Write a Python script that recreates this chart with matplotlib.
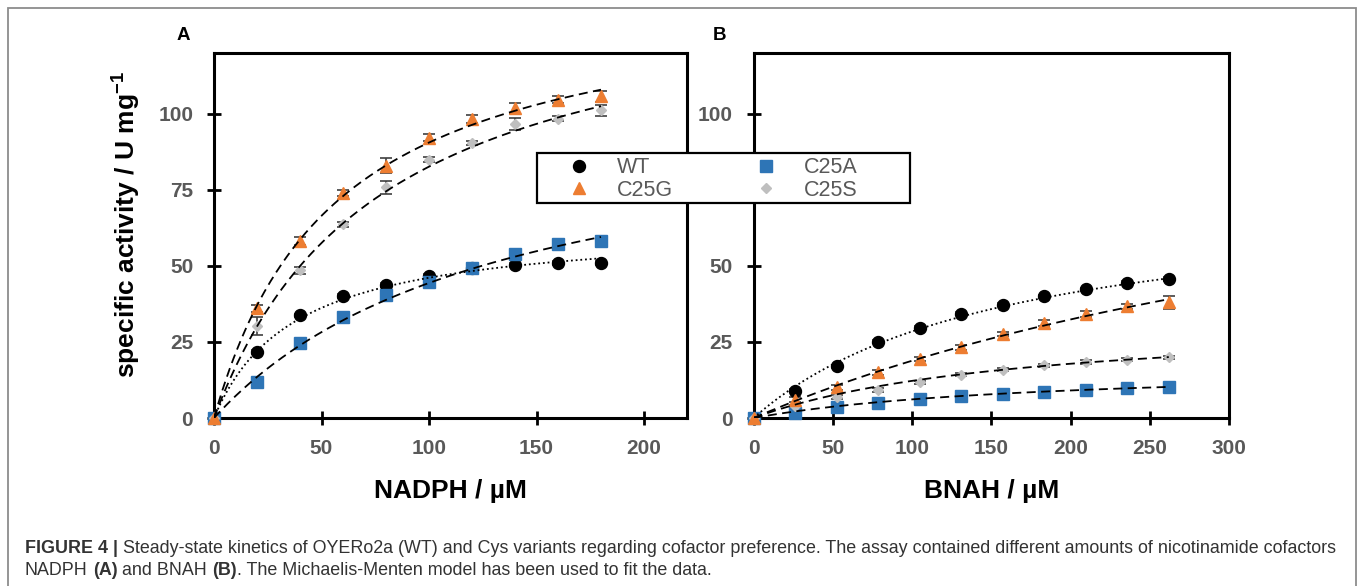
import numpy as np
import matplotlib.pyplot as plt
from matplotlib.lines import Line2D
from matplotlib.patches import Rectangle

plt.rcParams['font.family'] = ['Liberation Sans', 'DejaVu Sans']
plt.rcParams['mathtext.fontset'] = 'custom'
plt.rcParams['mathtext.bf'] = 'Liberation Sans:bold'
plt.rcParams['mathtext.rm'] = 'Liberation Sans'

# panel A: NADPH
nadph = [0, 20, 40, 60, 80, 100, 120, 140, 160, 180]
a_wt = [0, 21.6, 33.7, 40.1, 43.7, 46.7, 49.3, 50.2, 50.9, 50.9]
a_c25a = [0, 11.7, 24.8, 33.3, 40.4, 44.6, 49.3, 53.8, 57.1, 58.2]
a_c25g = [0, 36.1, 58.2, 74.1, 83.0, 92.2, 98.3, 101.9, 104.6, 105.7]
a_c25s = [0, 30.3, 48.5, 63.7, 75.8, 84.9, 90.4, 96.6, 98.4, 101.1]
a_wt_err = [0, 0.6, 0.6, 0.6, 0.6, 0.6, 0.6, 0.6, 0.6, 0.6]
a_c25a_err = [0, 0.6, 0.6, 0.6, 0.8, 0.8, 0.8, 0.8, 0.8, 0.8]
a_c25g_err = [0, 1.2, 1.2, 1.0, 2.5, 1.2, 1.3, 1.6, 1.2, 1.9]
a_c25s_err = [0, 3.0, 1.0, 0.8, 2.2, 0.8, 0.8, 1.9, 0.8, 1.9]

# panel B: BNAH
bnah = [0, 26.2, 52.4, 78.6, 104.8, 131, 157.2, 183.4, 209.6, 235.8, 262]
b_wt = [0, 9.0, 17.0, 25.0, 29.7, 34.3, 37.3, 40.0, 42.4, 44.4, 45.7]
b_c25a = [0, 1.6, 3.5, 4.9, 6.3, 7.1, 7.9, 8.6, 9.3, 9.9, 10.1]
b_c25g = [0, 6.0, 10.1, 15.1, 19.4, 23.2, 27.6, 31.3, 34.2, 36.7, 38.0]
b_c25s = [0, 3.8, 6.8, 9.3, 11.7, 14.3, 15.9, 17.3, 18.4, 19.2, 19.9]
b_wt_err = [0, 0.5, 0.5, 0.5, 0.5, 0.5, 0.5, 0.5, 0.5, 0.5, 0.5]
b_c25a_err = [0, 0.4, 0.4, 0.4, 0.4, 0.4, 0.4, 0.4, 0.4, 0.4, 0.4]
b_c25g_err = [0, 0.8, 0.8, 0.8, 0.8, 0.8, 0.8, 1.0, 0.9, 0.9, 2.0]
b_c25s_err = [0, 0.5, 0.6, 0.6, 0.6, 0.6, 0.6, 0.6, 0.6, 0.6, 0.6]

# Michaelis-Menten fit parameters (Vmax, Km)
a_fit = {'WT': (63.5, 37.7), 'C25A': (103.7, 133.6), 'C25G': (142.0, 56.8), 'C25S': (146.6, 77.4)}
b_fit = {'WT': (74.0, 160.0), 'C25A': (17.4, 184.0), 'C25G': (116.0, 516.0), 'C25S': (33.1, 171.0)}

names = ['WT', 'C25A', 'C25G', 'C25S']
colors = {'WT': 'black', 'C25A': '#2E75B6', 'C25G': '#ED7D31', 'C25S': '#BFBFBF'}
markers = {'WT': 'o', 'C25A': 's', 'C25G': '^', 'C25S': 'D'}
msize = {'WT': 8.6, 'C25A': 8.0, 'C25G': 8.6, 'C25S': 5.4}
lstyle = {'WT': (0, (1, 1.6)), 'C25A': (0, (5, 3)), 'C25G': (0, (5, 3)), 'C25S': (0, (5, 3))}

tick_col = '#595959'

fig = plt.figure(figsize=(13.58, 5.86), dpi=100)
axA = fig.add_axes([214/1358, 168/586, 473/1358, 365/586])
axB = fig.add_axes([753.6/1358, 168/586, 475.4/1358, 365/586])


def draw(ax, x, ys, errs, fits, xmax, xticks, xlabel):
    for n in ['WT', 'C25A', 'C25S', 'C25G']:
        ax.errorbar(x, ys[n], yerr=errs[n], fmt='none', ecolor='#404040',
                    elinewidth=1.2, capsize=4, capthick=1.2, zorder=2, clip_on=False)
        ax.plot(x, ys[n], linestyle='none', marker=markers[n], ms=msize[n],
                color=colors[n], mec=colors[n], zorder=3, clip_on=False)
    for n in names:
        vmax, km = fits[n]
        xs = np.linspace(0, x[-1], 200)
        ax.plot(xs, vmax * xs / (km + xs), color='black', lw=1.3,
                linestyle=lstyle[n], zorder=4)
    ax.set_xlim(0, xmax)
    ax.set_ylim(0, 120)
    ax.set_xticks(xticks)
    ax.set_yticks([0, 25, 50, 75, 100])
    for s in ax.spines.values():
        s.set_linewidth(2.2)
        s.set_color('black')
    ax.tick_params(direction='inout', length=10, width=2, color='black',
                   labelsize=15, labelcolor=tick_col)
    ax.tick_params(axis='x', pad=10)
    ax.tick_params(axis='y', pad=10)
    for lab in ax.get_xticklabels() + ax.get_yticklabels():
        lab.set_fontweight('bold')
    ax.set_xlabel(xlabel, fontsize=19, fontweight='bold', labelpad=15)


draw(axA, nadph,
     {'WT': a_wt, 'C25A': a_c25a, 'C25G': a_c25g, 'C25S': a_c25s},
     {'WT': a_wt_err, 'C25A': a_c25a_err, 'C25G': a_c25g_err, 'C25S': a_c25s_err},
     a_fit, 220, [0, 50, 100, 150, 200], 'NADPH / µM')
draw(axB, bnah,
     {'WT': b_wt, 'C25A': b_c25a, 'C25G': b_c25g, 'C25S': b_c25s},
     {'WT': b_wt_err, 'C25A': b_c25a_err, 'C25G': b_c25g_err, 'C25S': b_c25s_err},
     b_fit, 300, [0, 50, 100, 150, 200, 250, 300], 'BNAH / µM')

axA.set_ylabel(r'specific activity / U mg$^{\mathbf{-1}}$', fontsize=19, fontweight='bold')
axA.yaxis.set_label_coords(-0.153, 0.530)

fig.text(183/1358, 1 - 35/586, 'A', fontsize=13.5, fontweight='bold', ha='center', va='center')
fig.text(720/1358, 1 - 35/586, 'B', fontsize=13.5, fontweight='bold', ha='center', va='center')

# legend: own frame, contents placed inside
box = Rectangle((537/1358, 1 - 203/586), 373/1358, 50/586, transform=fig.transFigure,
                facecolor='white', edgecolor='black', lw=1.6, zorder=8)
fig.add_artist(box)
leg_fs = 15.5
handles = [Line2D([], [], linestyle='none', marker=markers[n], ms=msize[n],
                  color=colors[n]) for n in ['WT', 'C25G', 'C25A', 'C25S']]
leg = fig.legend(handles, ['WT', 'C25G', 'C25A', 'C25S'], ncol=2, loc='center left',
                 bbox_to_anchor=((579 - 10.8)/1358, 1 - 179/586), fontsize=leg_fs,
                 frameon=False, borderpad=0, labelspacing=0.05, handletextpad=1.27,
                 columnspacing=3.8, handlelength=1.0, borderaxespad=0)
for t in leg.get_texts():
    t.set_color(tick_col)
leg.set_zorder(10)

# outer frame
fig.patches.append(Rectangle((8/1358, -0.05), 1348/1358, 1.05 - 8/586, transform=fig.transFigure,
                             fill=False, edgecolor='#8c8c8c', lw=1.3))

# caption
renderer = fig.canvas.get_renderer()
cap_size = 12.9
cap_col = '#333333'


def tw(s, w):
    t = fig.text(0, 0, s, fontsize=cap_size, fontweight=w)
    wd = t.get_window_extent(renderer=renderer).width
    t.remove()
    return wd


space_w = tw('x x', 'normal') - tw('xx', 'normal')


def chain(x, y, parts):
    for s, w in parts:
        if s == ' ':
            x += space_w
            continue
        t = fig.text(x / 1358, y, s, fontsize=cap_size, fontweight=w, color=cap_col, va='baseline')
        x += t.get_window_extent(renderer=renderer).width


chain(25, 1 - 553/586, [('FIGURE 4 |', 'bold'), (' ', 'normal'),
                         ('Steady-state kinetics of OYERo2a (WT) and Cys variants regarding cofactor preference. '
                          'The assay contained different amounts of nicotinamide cofactors', 'normal')])
chain(25, 1 - 575/586, [('NADPH', 'normal'), (' ', 'normal'), ('(A)', 'bold'), (' ', 'normal'),
                         ('and BNAH', 'normal'), (' ', 'normal'), ('(B)', 'bold'),
                         ('. The Michaelis-Menten model has been used to fit the data.', 'normal')])

fig.savefig('out.png', dpi=100)
